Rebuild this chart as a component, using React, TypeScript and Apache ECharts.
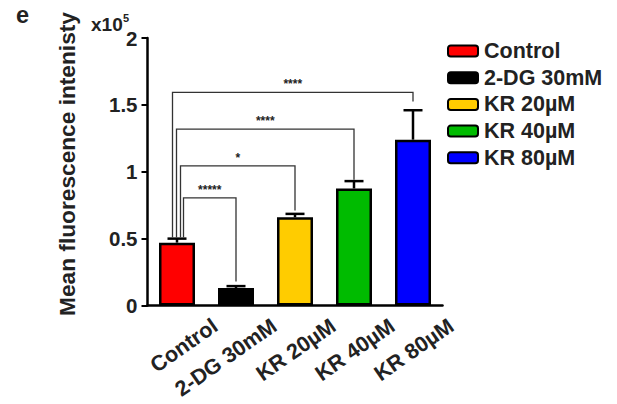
import React, { useEffect, useRef } from "react";
import * as echarts from "echarts";

const categories = ["Control", "2-DG 30mM", "KR 20µM", "KR 40µM", "KR 80µM"];
const meanValues = [0.47, 0.13, 0.66, 0.875, 1.24];
const errorTops = [0.5, 0.145, 0.685, 0.93, 1.46];
const yTicks = [0, 0.5, 1, 1.5, 2];

// significance brackets: all start at Control (index 0)
const bracketRightIdx = [1, 2, 3, 4];
const bracketLevels = [0.805, 1.044, 1.318, 1.593];
const bracketRightEnds = [0.18, 0.71, 0.94, 1.526];
const bracketLeftEnd = 0.51;
const bracketLabels = ["*****", "*", "****", "****"];

const barColors = ["#ff0000", "#000000", "#ffcc00", "#00bb00", "#0000ff"];
const leftOffsets = [6.5, 3.5, -0.5, -4.5];
const FONT = 'Arial, "Liberation Sans", Helvetica, sans-serif';
const TEXT = "#222222";

export default function App() {
  const ref = useRef<HTMLDivElement>(null);
  useEffect(() => {
    document.body.style.margin = "0";
    if (!ref.current) return;
    const chart = echarts.init(ref.current, undefined, { renderer: "svg" });

    const barSeries = categories.map((name, i) => ({
      name,
      type: "bar",
      barWidth: 36,
      barGap: "-100%",
      z: 3,
      itemStyle: { color: barColors[i], borderColor: "#000", borderWidth: 2.5 },
      data: categories.map((_, j) => (j === i ? meanValues[i] : "-")),
    }));

    const errorData = categories.map((_, i) => [i, meanValues[i], errorTops[i]]);
    const bracketData = bracketRightIdx.map((r, k) => [
      0,
      r,
      bracketLevels[k],
      bracketLeftEnd,
      bracketRightEnds[k],
      k,
    ]);

    chart.setOption({
      animation: false,
      grid: { left: 147.5, right: 174.5, top: 38, bottom: 98.5, containLabel: false },
      legend: {
        orient: "vertical",
        left: 447,
        top: 40,
        padding: 0,
        itemWidth: 30,
        itemHeight: 11,
        itemGap: 4.7,
        icon: "roundRect",
        data: categories,
        textStyle: { fontFamily: FONT, fontSize: 21.5, fontWeight: "bold", color: TEXT, lineHeight: 21, padding: [0, 0, 0, 1] },
      },
      xAxis: {
        type: "category",
        data: categories,
        axisLine: { lineStyle: { color: "#000", width: 2.5 } },
        axisTick: { alignWithLabel: true, length: 6, lineStyle: { color: "#000", width: 2 } },
        axisLabel: {
          interval: 0,
          rotate: 35,
          align: "right",
          verticalAlign: "middle",
          margin: 45,
          padding: [0, -46.8, 0, 0],
          fontFamily: FONT,
          fontSize: 21.5,
          fontWeight: "bold",
          color: TEXT,
        },
      },
      yAxis: {
        type: "value",
        min: 0,
        max: 2,
        interval: 0.5,
        axisLine: { show: true, lineStyle: { color: "#000", width: 2.5 } },
        axisTick: { show: true, length: 6, lineStyle: { color: "#000", width: 2 } },
        splitLine: { show: false },
        axisLabel: {
          margin: 10,
          fontFamily: FONT,
          fontSize: 20.5,
          fontWeight: "bold",
          color: TEXT,
          formatter: (v: number) => (yTicks.includes(v) ? String(v) : ""),
        },
      },
      graphic: [
        { type: "text", x: 16, y: 15, style: { text: "e", fontFamily: FONT, fontSize: 23.5, fontWeight: "bold", fill: TEXT, align: "left", verticalAlign: "middle" } },
        { type: "text", x: 91, y: 24, style: { text: "x10", fontFamily: FONT, fontSize: 19, fontWeight: "bold", fill: TEXT, align: "left", verticalAlign: "middle" } },
        { type: "text", x: 123, y: 18, style: { text: "5", fontFamily: FONT, fontSize: 11, fontWeight: "bold", fill: TEXT, align: "left", verticalAlign: "middle" } },
        {
          type: "text",
          x: 67,
          y: 164,
          rotation: Math.PI / 2,
          style: { text: "Mean fluorescence intenisty", fontFamily: FONT, fontSize: 22.7, fontWeight: "bold", fill: TEXT, align: "center", verticalAlign: "middle" },
        },
      ],
      series: [
        ...barSeries,
        {
          type: "custom",
          z: 4,
          data: errorData,
          encode: { x: 0, y: 2 },
          renderItem: (params: any, api: any) => {
            const idx = api.value(0);
            const base = api.coord([idx, api.value(1)]);
            const top = api.coord([idx, api.value(2)]);
            const half = 9.5;
            return {
              type: "group",
              children: [
                { type: "line", shape: { x1: base[0], y1: base[1], x2: top[0], y2: top[1] }, style: { stroke: "#000", lineWidth: 2.5 } },
                { type: "line", shape: { x1: top[0] - half, y1: top[1], x2: top[0] + half, y2: top[1] }, style: { stroke: "#000", lineWidth: 2.5 } },
              ],
            };
          },
        },
        {
          type: "custom",
          z: 2,
          data: bracketData,
          encode: { x: 1, y: 2 },
          renderItem: (params: any, api: any) => {
            const k = api.value(5);
            const lb = api.coord([api.value(0), api.value(3)]);
            const lt = api.coord([api.value(0), api.value(2)]);
            const rt = api.coord([api.value(1), api.value(2)]);
            const rb = api.coord([api.value(1), api.value(4)]);
            const lx = lb[0] + leftOffsets[k];
            return {
              type: "group",
              children: [
                {
                  type: "polyline",
                  shape: { points: [[lx, lb[1]], [lx, lt[1]], [rt[0], rt[1]], [rb[0], rb[1]]] },
                  style: { stroke: "#333", lineWidth: 1.3, fill: null },
                },
                {
                  type: "text",
                  x: (lx + rt[0]) / 2,
                  y: lt[1] - 2,
                  style: { text: bracketLabels[k], fontFamily: FONT, fontSize: 12, fontWeight: "bold", fill: TEXT, align: "center", verticalAlign: "bottom" },
                },
              ],
            };
          },
        },
      ],
    });
    return () => chart.dispose();
  }, []);
  return <div ref={ref} style={{ width: 617, height: 404 }} />;
}
